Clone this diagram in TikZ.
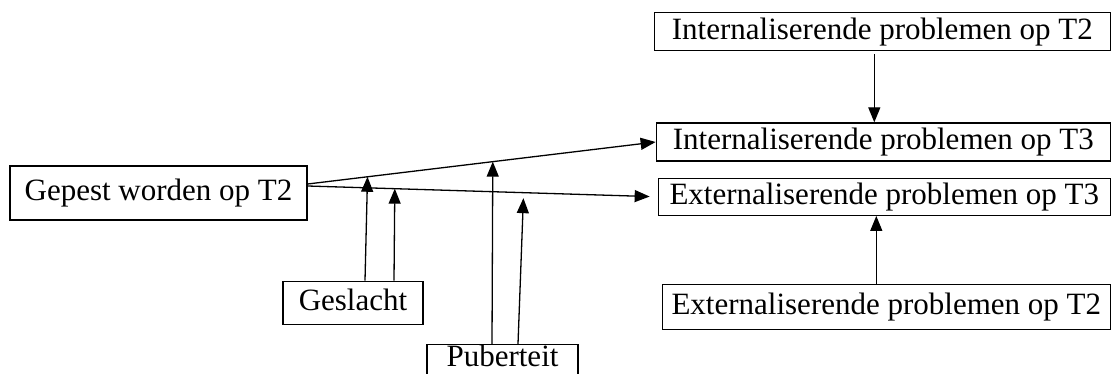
\documentclass[tikz,border=0pt]{standalone}
\usepackage{fontspec}
\setmainfont{Liberation Serif}
\usetikzlibrary{positioning,arrows.meta}

\tikzset{
  box/.style={draw, line width=1.3pt, font=\fontsize{31}{36}\selectfont,
    text height=22pt, text depth=7pt, inner xsep=0pt, inner ysep=2pt},
  link/.style={-{Triangle[length=15pt,width=12pt]}, line width=1.3pt},
}

\begin{document}
\begin{tikzpicture}[x=1pt, y=1pt]
  \useasboundingbox (0,0) rectangle (1111,-374);

  \node (gepest) [box, minimum width=297, minimum height=54] at (158.5,-193) {Gepest worden op T2};
  \node (geslacht) [box, minimum width=140, minimum height=43, below=60pt of gepest, xshift=194.5pt] {Geslacht};
  \node (puberteit) [box, text height=20pt, text depth=9pt, minimum width=151, minimum height=33, below=19pt of geslacht, xshift=149.5pt] {Puberteit};

  \node (it3) [box, minimum width=454, minimum height=38, right=348pt of gepest, yshift=51pt] {Internaliserende problemen op T3};
  \node (it2) [box, minimum width=456, minimum height=38, above=71pt of it3, xshift=-1pt] {Internaliserende problemen op T2};
  \node (et3) [box, minimum width=452, minimum height=37, below=16pt of it3, xshift=1pt] {Externaliserende problemen op T3};
  \node (et2) [box, minimum width=448, minimum height=45, below=68pt of et3, xshift=2pt] {Externaliserende problemen op T2};

  \draw[link] ([yshift=9pt]gepest.east) -- coordinate[pos=0.172] (g1) coordinate[pos=0.532] (p1) (it3.west);
  \draw[link, shorten >=8pt] ([yshift=7pt]gepest.east) -- coordinate[pos=0.249] (g2) coordinate[pos=0.617] (p2) (et3.west);

  \draw[link] ([xshift=12pt]geslacht.north) -- (g1);
  \draw[link] ([xshift=41pt]geslacht.north) -- (g2);
  \draw[link] ([xshift=-10.5pt]puberteit.north) -- (p1);
  \draw[link, shorten >=5.5pt] ([xshift=15.5pt]puberteit.north) -- (p2);

  \draw[link, shorten <=3pt] ([xshift=-8pt]it2.south) -- ([xshift=-9pt]it3.north);
  \draw[link] ([xshift=-10pt]et2.north) -- ([xshift=-8pt]et3.south);

\end{tikzpicture}
\end{document}
